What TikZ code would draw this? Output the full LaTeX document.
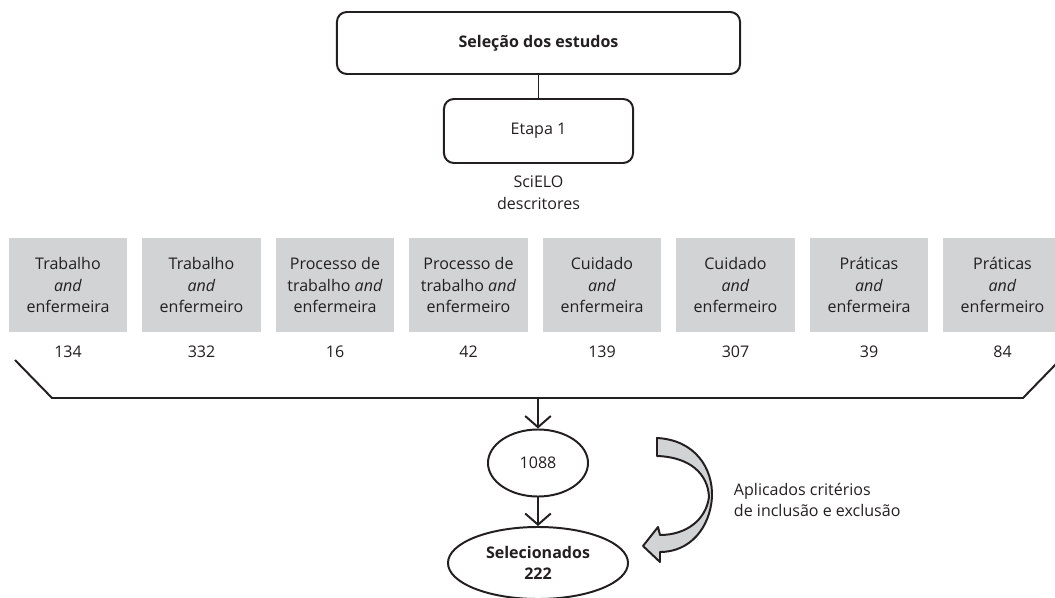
\documentclass[tikz,border=0pt]{standalone}
\usepackage{fontspec}
\setmainfont{Open Sans}
\usepackage{tikz}
\usetikzlibrary{shapes,positioning,arrows.meta}
\usepackage{xcolor}
\definecolor{cinza}{HTML}{D1D3D4}
\definecolor{texto}{HTML}{231F20}

\begin{document}
\begin{tikzpicture}
		[x=0.025cm,y=-0.025cm,
		every node/.style={text=texto,font=\fontsize{11.4}{15.5}\selectfont},
		caixa/.style={draw=texto,line width=1.4pt,rounded corners=7pt,align=center},
		termo/.style={fill=cinza,minimum width=2.95cm,minimum height=2.35cm,align=center,inner sep=0pt},
		elipse/.style={draw=texto,ellipse,line width=1.4pt,align=center,inner sep=0pt},
		linha/.style={draw=texto,line width=1.4pt},
		seta/.style={linha,-{Straight Barb[length=2.8mm,width=6.4mm]}}]
	\useasboundingbox (0,0) rectangle (1055,598);
	\node[caixa,minimum width=10.075cm,minimum height=1.55cm] (selecao) at (538.5,43) {\textbf{Seleção dos estudos}};
	\node[caixa,minimum width=4.725cm,minimum height=1.6cm] (etapa) at (538.5,131) {Etapa 1};
	\draw[linha] (selecao) -- (etapa);
	\node[align=center] (scielo) at (538.5,193) {SciELO\\descritores};
	\foreach \txt/\num [count=\i] in {
		{Trabalho\\\textit{and}\\enfermeira}/134,
		{Trabalho\\\textit{and}\\enfermeiro}/332,
		{Processo de\\trabalho \textit{and}\\enfermeira}/16,
		{Processo de\\trabalho \textit{and}\\enfermeiro}/42,
		{Cuidado\\\textit{and}\\enfermeira}/139,
		{Cuidado\\\textit{and}\\enfermeiro}/307,
		{Práticas\\\textit{and}\\enfermeira}/39,
		{Práticas\\\textit{and}\\enfermeiro}/84}
		{
		\node[termo] (termo\i) at ({68+(\i-1)*133.5},285) {\txt};
		\node (num\i) at ({68+(\i-1)*133.5},352) {\num};
		}
	\coordinate (colchete) at (538,398);
	\draw[linha] (15,360) -- (52,398) -- (1023,398) -- (1057,363);
	\node[elipse,minimum width=2.5cm,minimum height=1.675cm] (total) at (538,463) {1088};
	\node[elipse,minimum width=4.5cm,minimum height=1.8cm] (selecionados) at (538,563) {\textbf{Selecionados}\\\textbf{222}};
	\draw[seta] (colchete) -- (total);
	\draw[seta] (total) -- (selecionados);
	\draw[linha,fill=cinza,line join=round] (657,438) .. controls (695,440) and (713,468) .. (712,497)
		.. controls (710,528) and (690,552) .. (660,552) -- (660,562) -- (643,546) -- (658,527) -- (660,535)
		.. controls (686,535) and (706,520) .. (709,497) .. controls (708,474) and (690,457) .. (657,456) -- cycle;
	\node[anchor=west,align=left] (criterios) at (729,500) {Aplicados critérios\\de inclusão e exclusão};
\end{tikzpicture}
\end{document}
